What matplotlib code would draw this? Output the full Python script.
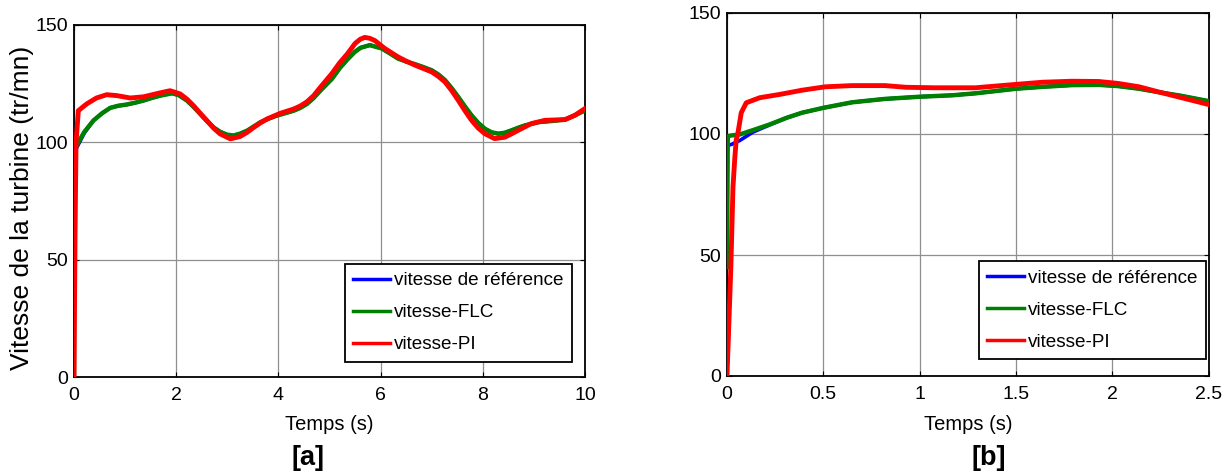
import matplotlib
matplotlib.use("Agg")
import matplotlib.pyplot as plt
from matplotlib import font_manager
from matplotlib.ticker import FuncFormatter

# ---------------------------------------------------------------------------
# Data: turbine speed (tr/mn) versus time (s)
# ---------------------------------------------------------------------------
# [a] full run, 0 - 10 s
t_a = [0.0, 0.004, 0.05, 0.2, 0.38, 0.55, 0.71, 0.87, 1.03, 1.2, 1.36, 1.52,
       1.69, 1.92, 2.05, 2.21, 2.34, 2.47, 2.6, 2.73, 2.86, 2.99, 3.12, 3.25,
       3.39, 3.52, 3.65, 3.81, 3.97, 4.13, 4.3, 4.43, 4.56, 4.69, 4.82, 5.05,
       5.2, 5.35, 5.5, 5.61, 5.79, 6.02, 6.18, 6.34, 6.5, 6.67, 6.83, 7.0,
       7.13, 7.26, 7.39, 7.52, 7.65, 7.78, 7.91, 8.04, 8.17, 8.3, 8.43, 8.56,
       8.69, 8.82, 9.09, 9.35, 9.61, 9.8, 10.0]
ref_a = [95.5, 95.5, 97.5, 103.8, 109.2, 112.3, 114.6, 115.5, 116.0, 116.8,
         117.7, 118.8, 119.8, 120.8, 120.0, 117.7, 115.0, 112.0, 109.0, 106.3,
         104.4, 103.2, 102.8, 103.6, 104.9, 106.7, 108.5, 110.0, 111.3, 112.3,
         113.4, 114.6, 116.3, 118.8, 121.9, 127.0, 131.5, 135.2, 138.5, 140.2,
         141.3, 139.9, 137.8, 135.6, 134.3, 133.2, 132.0, 130.6, 128.8, 126.4,
         123.0, 119.2, 115.2, 111.4, 108.2, 105.7, 104.2, 103.6, 104.0, 105.0,
         106.1, 107.1, 108.5, 109.0, 109.6, 111.4, 113.5]
flc_a = [0.0, 97.0, 98.6, 104.3, 109.2, 112.3, 114.6, 115.5, 116.0, 116.8,
         117.7, 118.8, 119.8, 120.8, 120.0, 117.7, 115.0, 112.0, 109.0, 106.3,
         104.4, 103.2, 102.8, 103.6, 104.9, 106.7, 108.5, 110.0, 111.3, 112.3,
         113.4, 114.6, 116.3, 118.8, 121.9, 127.0, 131.5, 135.2, 138.5, 140.2,
         141.3, 139.9, 137.8, 135.6, 134.3, 133.2, 132.0, 130.6, 128.8, 126.4,
         123.0, 119.2, 115.2, 111.4, 108.2, 105.7, 104.2, 103.6, 104.0, 105.0,
         106.1, 107.1, 108.5, 109.0, 109.6, 111.4, 113.5]

t_pi_a = [0.0, 0.02, 0.04, 0.085, 0.25, 0.44, 0.64, 0.84, 1.1, 1.36, 1.69,
          1.88, 2.08, 2.21, 2.34, 2.47, 2.6, 2.73, 2.86, 3.06, 3.25, 3.39,
          3.52, 3.65, 3.78, 4.04, 4.3, 4.43, 4.56, 4.69, 4.82, 5.05, 5.2, 5.35,
          5.5, 5.6, 5.69, 5.79, 5.89, 6.08, 6.34, 6.5, 6.67, 7.0, 7.13, 7.26,
          7.39, 7.52, 7.65, 7.78, 7.91, 8.04, 8.23, 8.43, 8.56, 8.69, 8.95,
          9.22, 9.61, 9.8, 10.0]
pi_a = [0.0, 60.0, 100.0, 113.4, 116.3, 118.8, 120.2, 119.8, 118.8, 119.3,
        121.0, 121.9, 120.5, 118.3, 115.5, 112.3, 109.2, 106.0, 103.5, 101.4,
        102.4, 104.2, 106.3, 108.2, 109.9, 112.3, 114.1, 115.4, 117.2, 119.8,
        123.3, 129.3, 133.8, 137.6, 142.0, 143.8, 144.6, 144.2, 143.2, 139.9,
        136.3, 134.5, 132.8, 129.9, 128.0, 125.6, 122.0, 117.8, 113.4, 109.3,
        106.0, 103.6, 101.5, 102.1, 103.5, 105.0, 107.9, 109.3, 109.6, 111.4,
        114.3]

# [b] start-up detail, 0 - 2.5 s
t_b = [0.0, 0.004, 0.023, 0.066, 0.135, 0.22, 0.31, 0.39, 0.5, 0.65, 0.82,
       1.0, 1.17, 1.29, 1.5, 1.64, 1.79, 1.93, 2.03, 2.14, 2.24, 2.35, 2.5]
ref_b = [95.2, 95.3, 95.7, 97.3, 100.8, 103.7, 106.7, 108.8, 110.8, 113.1,
         114.5, 115.4, 116.0, 116.8, 118.7, 119.5, 120.2, 120.3, 119.8, 118.7,
         117.3, 115.9, 113.6]
flc_b = [45.0, 99.1, 99.4, 99.8, 101.6, 103.9, 106.7, 108.8, 110.8, 113.1,
         114.5, 115.4, 116.0, 116.8, 118.7, 119.5, 120.2, 120.3, 119.8, 118.7,
         117.3, 115.9, 113.6]

t_pi_b = [0.0, 0.02, 0.031, 0.04, 0.048, 0.057, 0.074, 0.10, 0.17, 0.27,
          0.39, 0.51, 0.65, 0.82, 0.93, 1.08, 1.29, 1.5, 1.64, 1.79, 1.93,
          2.03, 2.14, 2.24, 2.35, 2.5]
pi_b = [0.0, 45.0, 78.0, 89.5, 97.7, 100.5, 108.8, 112.9, 115.0, 116.3,
        118.1, 119.5, 120.0, 120.0, 119.3, 119.1, 119.1, 120.5, 121.4, 121.8,
        121.7, 120.9, 119.5, 117.4, 115.2, 112.2]

series_labels = ["vitesse de référence", "vitesse-FLC", "vitesse-PI"]
y_ticks = [0, 50, 100, 150]
x_ticks_a = [0, 2, 4, 6, 8, 10]
x_ticks_b = [0, 0.5, 1, 1.5, 2, 2.5]

# ---------------------------------------------------------------------------
# Fonts: a condensed sans if one is installed, else the regular one
# ---------------------------------------------------------------------------
installed = {f.name for f in font_manager.fontManager.ttflist}
if "Liberation Sans Narrow" in installed:
    FAMILY = "Liberation Sans Narrow"
    FS_TICK, FS_XLAB, FS_LEG = 15.5, 17, 16.3
else:
    FAMILY = "Liberation Sans"
    FS_TICK, FS_XLAB, FS_LEG = 14, 14.5, 13.6
WIDE = "Liberation Sans"

plt.rcParams["font.family"] = FAMILY

W, H = 1227, 475
fig = plt.figure(figsize=(W / 100, H / 100), dpi=100)


def px_axes(x0, x1, ytop, ybot):
    return fig.add_axes([x0 / W, 1 - ybot / H, (x1 - x0) / W, (ybot - ytop) / H])


ax_a = px_axes(74, 585, 24.7, 377)
ax_b = px_axes(727, 1208.5, 13, 376)

BLUE, GREEN, RED = "#0000ff", "#008000", "#ff0000"


def style(ax, xt, xlim):
    ax.set_xlim(*xlim)
    ax.set_ylim(0, 150)
    ax.set_xticks(xt)
    ax.set_yticks(y_ticks)
    ax.xaxis.set_major_formatter(FuncFormatter(lambda v, p: "%g" % v))
    ax.yaxis.set_major_formatter(FuncFormatter(lambda v, p: "%g" % v))
    ax.grid(True, color="#8f8f8f", linewidth=0.9, linestyle="-")
    ax.set_axisbelow(True)
    ax.tick_params(direction="in", length=3.5, width=0.8, top=True, right=True,
                   labelsize=FS_TICK, colors="black")
    ax.tick_params(axis="x", pad=7)
    ax.tick_params(axis="y", pad=4)
    for s in ax.spines.values():
        s.set_linewidth(1.3)
        s.set_color("black")


style(ax_a, x_ticks_a, (0, 10))
style(ax_b, x_ticks_b, (0, 2.5))

ax_a.plot(t_a, ref_a, color=BLUE, lw=2.6, label=series_labels[0], zorder=3)
ax_a.plot(t_a, flc_a, color=GREEN, lw=3.2, label=series_labels[1], zorder=4)
ax_a.plot(t_pi_a, pi_a, color=RED, lw=3.5, label=series_labels[2], zorder=5)

ax_b.plot(t_b, ref_b, color=BLUE, lw=2.6, label=series_labels[0], zorder=3)
ax_b.plot(t_b, flc_b, color=GREEN, lw=3.2, label=series_labels[1], zorder=4)
ax_b.plot(t_pi_b, pi_b, color=RED, lw=3.5, label=series_labels[2], zorder=5)

for ax, anchor in ((ax_a, (0.974, 0.0434)), (ax_b, (0.995, 0.046))):
    leg = ax.legend(loc="lower right", bbox_to_anchor=anchor, borderaxespad=0,
                    fontsize=FS_LEG, handlelength=1.95, handletextpad=0.2,
                    labelspacing=0.78, borderpad=0.45, fancybox=False,
                    framealpha=1, edgecolor="black")
    leg.get_frame().set_linewidth(1.3)
    for ln in leg.get_lines():
        ln.set_linewidth(2.5)

# Axis titles and panel tags
fig.text(22.5 / W, 1 - 208 / H, "Vitesse de la turbine (tr/mn)", rotation=90,
         ha="center", va="center", fontsize=19, family=WIDE)
fig.text(329.5 / W, 1 - 425 / H, "Temps (s)", ha="center", va="center",
         fontsize=FS_XLAB)
fig.text(968.3 / W, 1 - 425 / H, "Temps (s)", ha="center", va="center",
         fontsize=FS_XLAB)
fig.text(308 / W, 1 - 458 / H, "[a]", ha="center", va="center",
         fontsize=19.5, fontweight="bold", family=WIDE)
fig.text(989 / W, 1 - 458 / H, "[b]", ha="center", va="center",
         fontsize=19.5, fontweight="bold", family=WIDE)

fig.savefig("out.png", dpi=100, facecolor="white")
